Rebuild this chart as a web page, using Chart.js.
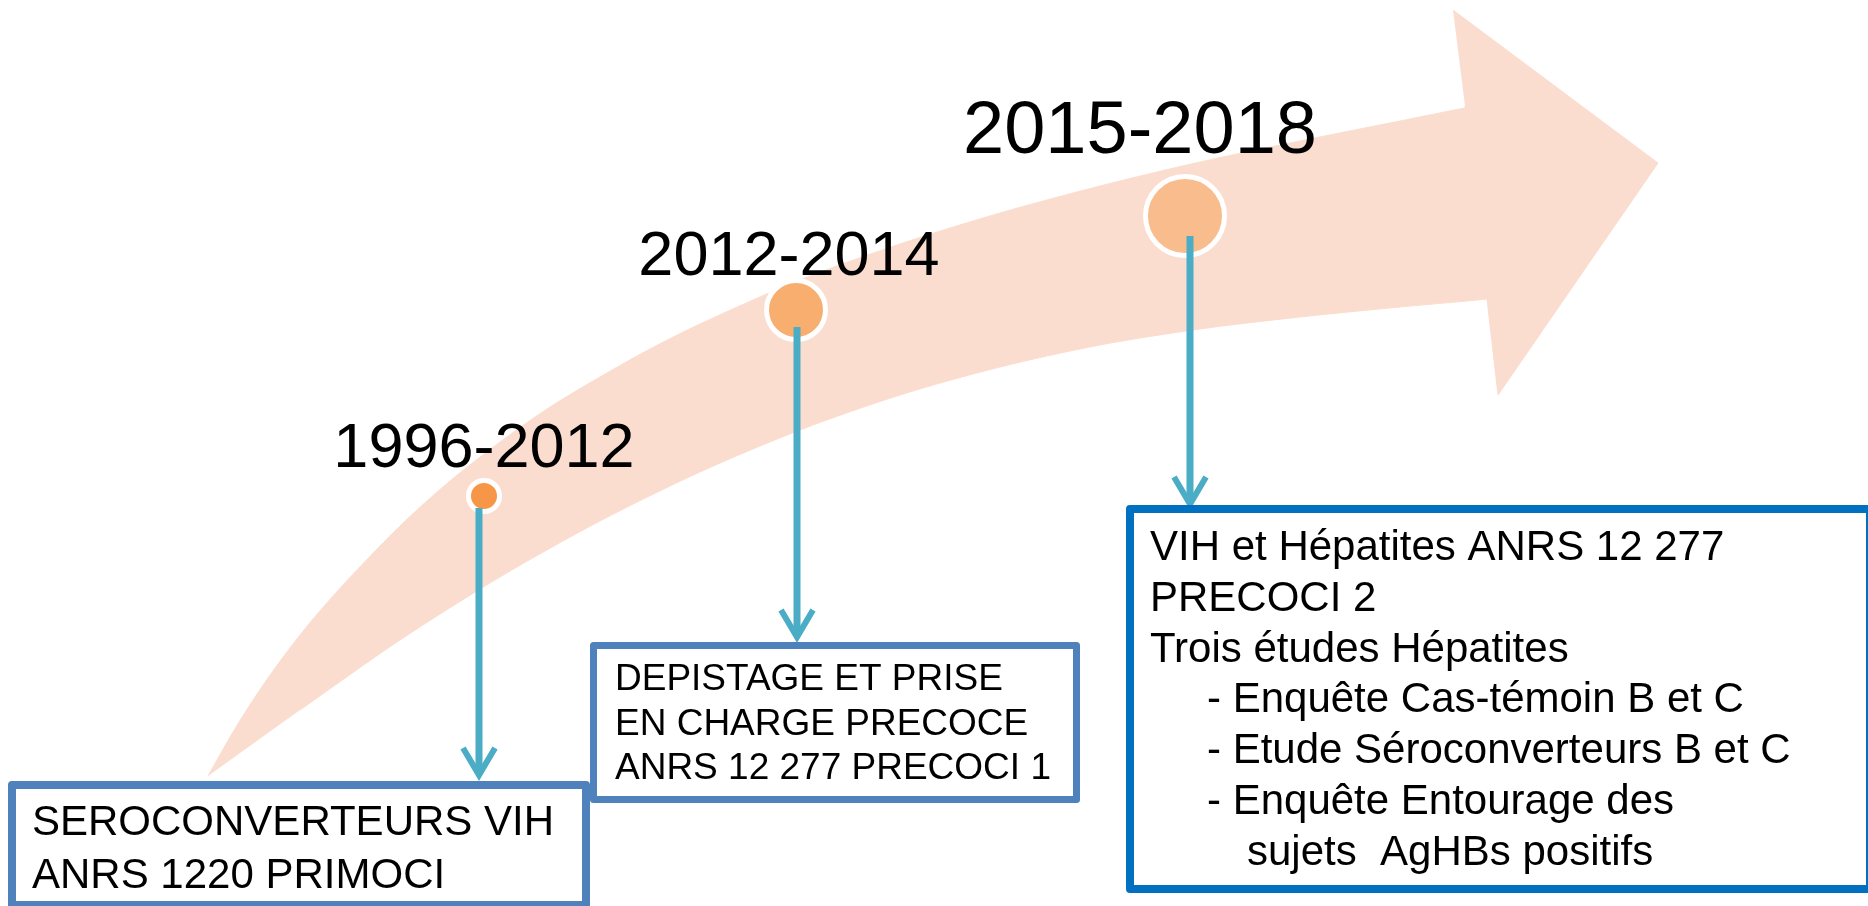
<!DOCTYPE html>
<html>
<head>
<meta charset="utf-8">
<title>Timeline</title>
<script src="https://cdn.jsdelivr.net/npm/chart.js"></script>
<style>
    html, body { margin: 0; padding: 0; background: #fff; }
    #timeline { display: block; }
</style>
</head>
<body>
<canvas id="timeline" width="1868" height="906"></canvas>
<script>
// periodes et textes des encadres
const periods = ['1996-2012', '2012-2014', '2015-2018'];
const box1Lines = ['SEROCONVERTEURS VIH', 'ANRS 1220 PRIMOCI'];
const box2Lines = ['DEPISTAGE ET PRISE', 'EN CHARGE PRECOCE', 'ANRS 12 277 PRECOCI 1'];
const box3Lines = [
    'VIH et Hépatites ANRS 12 277',
    'PRECOCI 2',
    'Trois études Hépatites',
    '- Enquête Cas-témoin B et C',
    '- Etude Séroconverteurs B et C',
    '- Enquête Entourage des',
    'sujets  AgHBs positifs'
];

// ---- mise en page (coordonnees du dessin, 1868 x 906) ----
const bandTop = [
    [208, 776], [236, 727], [268, 678], [304, 630], [343, 585], [400, 526], [450, 481],
    [500, 442], [550, 407], [600, 377], [650, 349], [700, 324], [800, 280], [900, 244],
    [1000, 213], [1100, 186], [1200, 162], [1300, 141], [1400, 121], [1465, 108], [1530, 97]
];
const bandBottom = [
    [1540, 292], [1487, 299], [1400, 307], [1300, 317], [1200, 329], [1100, 345], [1000, 367],
    [900, 395], [800, 430], [700, 472], [600, 521], [500, 577], [400, 640], [300, 710]
];
const arrowHead = [[1453, 10], [1658, 163], [1498, 395], [1487, 299], [1465, 106]];

const dotX = [484, 796, 1185];
const dotY = [496, 310, 216];
const dotR = [13, 27, 37];
const dotColors = ['#F79646', '#F8AE6E', '#F9BD8D'];

const labelX = [484, 789, 1140];
const labelY = [467, 275, 153];
const labelSize = [63, 63, 74];

const connX = [479, 797, 1190];
const connFrom = [508, 327, 236];
const connTo = [778, 640, 507];

const boxes = [
    { l: 8, t: 781, r: 590, b: 909, bw: 8, color: '#4F81BD', font: 42, tx: 32, base: 835, lh: 53, lines: box1Lines, indent: [0, 0] },
    { l: 590, t: 642, r: 1080, b: 803, bw: 7, color: '#4F81BD', font: 37, tx: 615, base: 690, lh: 44.5, lines: box2Lines, indent: [0, 0, 0] },
    { l: 1126, t: 505, r: 1874, b: 893, bw: 8, color: '#0070C0', font: 42, tx: 1150, base: 560, lh: 50.8, lines: box3Lines, indent: [0, 0, 0, 57, 57, 57, 97] }
];

const bandColor = '#FBDDD0';
const tealColor = '#4BACC6';
const fontFamily = '"Liberation Sans", Arial, Helvetica, sans-serif';

function toPoints(arr) {
    return arr.map(function (p) { return { x: p[0], y: p[1] }; });
}

var datasets = [];

// fleches bleues (dessus)
for (let i = 0; i < connX.length; i++) {
    datasets.push({
        data: [{ x: connX[i], y: connFrom[i] }, { x: connX[i], y: connTo[i] - 5 }],
        showLine: true, borderColor: tealColor, borderWidth: 7,
        pointRadius: 0, borderCapStyle: 'butt', order: 0
    });
    datasets.push({
        data: [{ x: connX[i] - 16, y: connTo[i] - 30 }, { x: connX[i], y: connTo[i] - 3 }, { x: connX[i] + 16, y: connTo[i] - 30 }],
        showLine: true, borderColor: tealColor, borderWidth: 6,
        pointRadius: 0, borderJoinStyle: 'miter', borderCapStyle: 'butt', order: 0
    });
}

// cercles
datasets.push({
    data: dotX.map(function (x, i) { return { x: x, y: dotY[i] }; }),
    showLine: false,
    pointRadius: dotR.map(function (r) { return r + 2.5; }),
    pointBackgroundColor: dotColors,
    pointBorderColor: '#ffffff',
    pointBorderWidth: 5,
    order: 1
});

// tete de la grande fleche
datasets.push({
    data: toPoints(arrowHead),
    showLine: true, fill: 'shape', tension: 0,
    backgroundColor: bandColor, borderColor: bandColor, borderWidth: 1,
    pointRadius: 0, order: 2
});

// bande courbe
datasets.push({
    data: toPoints(bandTop.concat(bandBottom)),
    showLine: true, fill: 'shape', tension: 0.3,
    backgroundColor: bandColor, borderColor: bandColor, borderWidth: 1,
    pointRadius: 0, order: 3
});

const textPlugin = {
    id: 'textPlugin',
    afterDatasetsDraw(chart) {
        const ctx = chart.ctx;
        const xs = chart.scales.x;
        const ys = chart.scales.y;
        ctx.save();
        ctx.fillStyle = '#000';
        ctx.textBaseline = 'alphabetic';
        ctx.textAlign = 'center';
        periods.forEach(function (p, i) {
            ctx.font = labelSize[i] + 'px ' + fontFamily;
            ctx.fillText(p, xs.getPixelForValue(labelX[i]), ys.getPixelForValue(labelY[i]));
        });

        boxes.forEach(function (b) {
            const x1 = xs.getPixelForValue(b.l), x2 = xs.getPixelForValue(b.r);
            const y1 = ys.getPixelForValue(b.t), y2 = ys.getPixelForValue(b.b);
            const h = b.bw / 2;
            ctx.fillStyle = '#fff';
            ctx.fillRect(x1 + h, y1 + h, x2 - x1 - b.bw, y2 - y1 - b.bw);
            ctx.lineWidth = b.bw;
            ctx.lineJoin = 'round';
            ctx.strokeStyle = b.color;
            ctx.strokeRect(x1 + h, y1 + h, x2 - x1 - b.bw, y2 - y1 - b.bw);

            ctx.fillStyle = '#000';
            ctx.textAlign = 'left';
            ctx.font = b.font + 'px ' + fontFamily;
            b.lines.forEach(function (line, j) {
                ctx.fillText(line, xs.getPixelForValue(b.tx + b.indent[j]), ys.getPixelForValue(b.base + j * b.lh));
            });
        });
        ctx.restore();
    }
};

const myChart = new Chart(document.getElementById('timeline'), {
    type: 'scatter',
    data: { datasets: datasets },
    options: {
        responsive: false,
        animation: false,
        layout: { padding: 0, autoPadding: false },
        plugins: {
            legend: { display: false },
            tooltip: { enabled: false }
        },
        scales: {
            x: { type: 'linear', min: 0, max: 1868, display: false },
            y: { type: 'linear', min: 0, max: 906, reverse: true, display: false }
        }
    },
    plugins: [textPlugin]
});
</script>
</body>
</html>
